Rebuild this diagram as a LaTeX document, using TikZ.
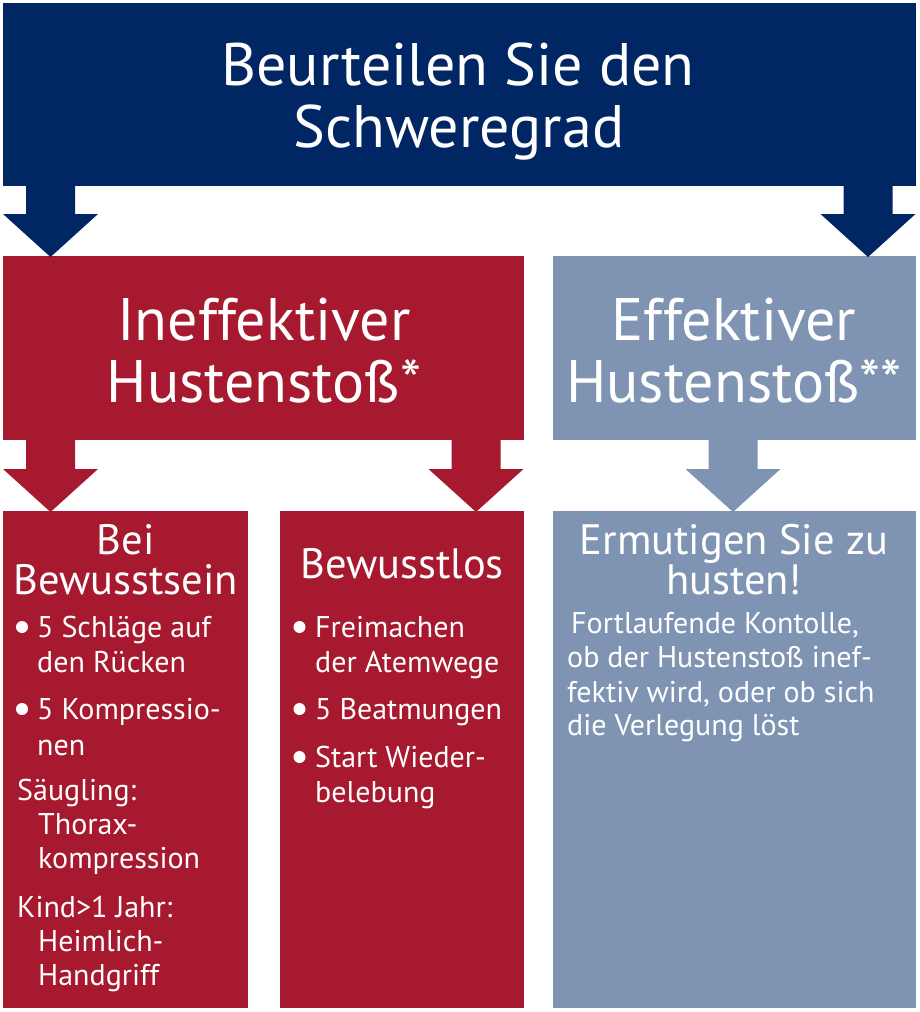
\documentclass[tikz,border=0pt]{standalone}
\usepackage{fontspec}
\setmainfont{PT Sans}
\usetikzlibrary{calc}
\definecolor{navy}{RGB}{0,38,99}
\definecolor{crimson}{RGB}{166,25,46}
\definecolor{slate}{RGB}{127,147,178}
\newcommand{\bigfont}{\fontsize{60}{62}\selectfont}
\newcommand{\midfont}{\fontsize{42.5}{42}\selectfont}
\newcommand{\smallfont}{\fontsize{30}{34}\selectfont}
\newcommand{\blockarr}[4]{%
  \fill[#1] ($(#3.south -| #2)+(-24.5,-1)$) -- ($(#4.north -| #2)+(-24.5,-42)$)
    -- ($(#4.north -| #2)+(-47.5,-42)$) -- ($(#4.north -| #2)+(0,1)$)
    -- ($(#4.north -| #2)+(47.5,-42)$) -- ($(#4.north -| #2)+(24.5,-42)$)
    -- ($(#3.south -| #2)+(24.5,-1)$) -- cycle;}
\begin{document}
\begin{tikzpicture}[x=1pt,y=-1pt,
  panel/.style={draw=none,inner sep=0,outer sep=0,anchor=north west},
  tbig/.style={font=\bigfont,text=white,inner sep=0,anchor=base},
  tmid/.style={font=\midfont,text=white,inner sep=0,anchor=base},
  tsmall/.style={font=\smallfont,text=white,inner sep=0,anchor=base west},
  dot/.style={circle,fill=white,inner sep=0,minimum size=12pt}]
\useasboundingbox (0,0) rectangle (920,1012);
% panels
\node[panel,fill=navy,minimum width=913pt,minimum height=183pt] (top) at (3,3) {};
\node[panel,fill=crimson,minimum width=521pt,minimum height=184pt] (ineff) at (3,256) {};
\node[panel,fill=slate,minimum width=363pt,minimum height=184pt] (eff) at (553,256) {};
\node[panel,fill=crimson,minimum width=245pt,minimum height=497pt] (conscious) at (3,511) {};
\node[panel,fill=crimson,minimum width=244pt,minimum height=497pt] (unconscious) at (280,511) {};
\node[panel,fill=slate,minimum width=363pt,minimum height=497pt] (cough) at (553,511) {};
% arrow axes
\coordinate (xa) at (50.5,0);
\coordinate (xb) at (868,0);
\coordinate (xc) at (476,0);
\coordinate (xd) at (733,0);
\blockarr{navy}{xa}{top}{ineff}
\blockarr{navy}{xb}{top}{eff}
\blockarr{crimson}{xa}{ineff}{conscious}
\blockarr{crimson}{xc}{ineff}{unconscious}
\blockarr{slate}{xd}{eff}{cough}
% headings
\node[tbig] (t1) at (458,85) {Beurteilen Sie den};
\node[tbig] (t2) at (459,147) {Schweregrad};
\node[tbig] (i1) at (264,340) {Ineffektiver};
\node[tbig] (i2) at (264,402) {Hustenstoß*};
\node[tbig] (e1) at (734,340) {Effektiver};
\node[tbig] (e2) at (734,402) {Hustenstoß**};
\node[tmid] (a1) at (125.5,554) {Bei};
\node[tmid] (a2) at (125.5,594) {Bewusstsein};
\node[tmid] (b1) at (402,578) {Bewusstlos};
\node[tmid] (c1) at (734,554) {Ermutigen Sie zu};
\node[tmid] (c2) at (734,594) {husten!};
% box A
\node[dot] (ad1) at (22,627) {};
\node[tsmall] (al1) at (37,637) {5 Schläge auf};
\node[tsmall] (al2) at (37,672) {den Rücken};
\node[dot] (ad2) at (22,709) {};
\node[tsmall] (al3) at (37,719) {5 Kompressio-};
\node[tsmall] (al4) at (37,755) {nen};
\node[tsmall] (al5) at (17,800) {Säugling:};
\node[tsmall] (al6) at (38,834) {Thorax-};
\node[tsmall] (al7) at (38,868) {kompression};
\node[tsmall] (al8) at (17,917) {Kind>1 Jahr:};
\node[tsmall] (al9) at (38,951) {Heimlich-};
\node[tsmall] (al10) at (38,985) {Handgriff};
% box B
\node[dot] (bd1) at (299.5,627) {};
\node[tsmall] (bl1) at (315,637) {Freimachen};
\node[tsmall] (bl2) at (315,672) {der Atemwege};
\node[dot] (bd2) at (299.5,709) {};
\node[tsmall] (bl3) at (315,719) {5 Beatmungen};
\node[dot] (bd3) at (299.5,757) {};
\node[tsmall] (bl4) at (315,767) {Start Wieder-};
\node[tsmall] (bl5) at (315,802) {belebung};
% box C
\node[tsmall] (cl1) at (571,633) {Fortlaufende Kontolle,};
\node[tsmall] (cl2) at (567,667) {ob der Hustenstoß inef-};
\node[tsmall] (cl3) at (567,702) {fektiv wird, oder ob sich};
\node[tsmall] (cl4) at (567,735) {die Verlegung löst};
\end{tikzpicture}
\end{document}
